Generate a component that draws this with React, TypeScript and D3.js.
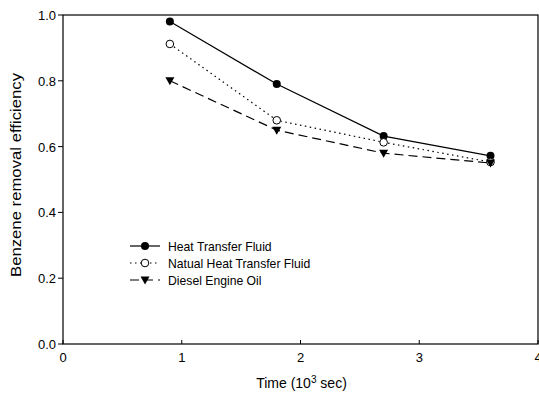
import React from "react";
import * as d3 from "d3";

const times = [0.9, 1.8, 2.7, 3.6];
const heatTransferFluid = [0.98, 0.79, 0.632, 0.572];
const naturalHeatTransferFluid = [0.912, 0.68, 0.613, 0.553];
const dieselEngineOil = [0.8, 0.65, 0.58, 0.55];
const xTicks = [0, 1, 2, 3, 4];
const yTicks = [0.0, 0.2, 0.4, 0.6, 0.8, 1.0];
const seriesNames = ["Heat Transfer Fluid", "Natual Heat Transfer Fluid", "Diesel Engine Oil"];

const W = 539, H = 396;
const left = 63, right = 538, top = 15, bottom = 344;

export default function App() {
  const x = d3.scaleLinear().domain([0, 4]).range([left, right]);
  const y = d3.scaleLinear().domain([0, 1]).range([bottom, top]);
  const line = d3.line<number>().x((_, i) => x(times[i])).y((d) => y(d));
  const series = [
    { name: seriesNames[0], values: heatTransferFluid, dash: "none", marker: "filled" },
    { name: seriesNames[1], values: naturalHeatTransferFluid, dash: "1.5,3.5", marker: "open" },
    { name: seriesNames[2], values: dieselEngineOil, dash: "9,5", marker: "tri" },
  ];
  const marker = (kind: string, cx: number, cy: number, key: any) => {
    if (kind === "filled") return <circle key={key} cx={cx} cy={cy} r={4} fill="#000" />;
    if (kind === "open") return <circle key={key} cx={cx} cy={cy} r={3.8} fill="#fff" stroke="#000" strokeWidth={1} />;
    return <path key={key} d={`M${cx - 4.5},${cy - 3.5}L${cx + 4.5},${cy - 3.5}L${cx},${cy + 4.5}Z`} fill="#000" />;
  };
  const font = "'Liberation Sans', Arial, sans-serif";
  return (
    <svg width={W} height={H} style={{ position: "absolute", left: 0, top: 0, background: "#fff" }} fontFamily={font}>
      <rect x={left} y={top} width={right - left} height={bottom - top} fill="none" stroke="#000" strokeWidth={1.2} />
      {yTicks.map((t) => (
        <g key={"y" + t}>
          <line x1={left - 5} x2={left} y1={y(t)} y2={y(t)} stroke="#000" />
          <text x={left - 7} y={y(t) + 5} textAnchor="end" fontSize={13}>{t.toFixed(1)}</text>
        </g>
      ))}
      {xTicks.map((t) => (
        <g key={"x" + t}>
          <line x1={x(t)} x2={x(t)} y1={bottom} y2={bottom - 4} stroke="#000" />
          <text x={x(t)} y={bottom + 18} textAnchor="middle" fontSize={13}>{t}</text>
        </g>
      ))}
      <text x={x(2) + 1} y={388} textAnchor="middle" fontSize={14}>
        Time (10<tspan dy={-5} fontSize={10}>3</tspan><tspan dy={5}> sec)</tspan>
      </text>
      <text transform={`translate(21,175) rotate(-90)`} textAnchor="middle" fontSize={15} textLength={204} lengthAdjust="spacingAndGlyphs">Benzene removal efficiency</text>
      {series.map((s) => (
        <g key={s.name}>
          <path d={line(s.values) || ""} fill="none" stroke="#000" strokeWidth={1.2} strokeDasharray={s.dash} />
          {s.values.map((v, i) => marker(s.marker, x(times[i]), y(v), i))}
        </g>
      ))}
      {series.map((s, si) => {
        const ly = 246 + si * 17;
        return (
          <g key={"lg" + si}>
            <line x1={130} x2={160} y1={ly} y2={ly} stroke="#000" strokeWidth={1.2} strokeDasharray={s.dash} />
            {marker(s.marker, 145, ly, "m")}
            <text x={168} y={ly + 4.5} fontSize={12.2}>{s.name}</text>
          </g>
        );
      })}
    </svg>
  );
}
